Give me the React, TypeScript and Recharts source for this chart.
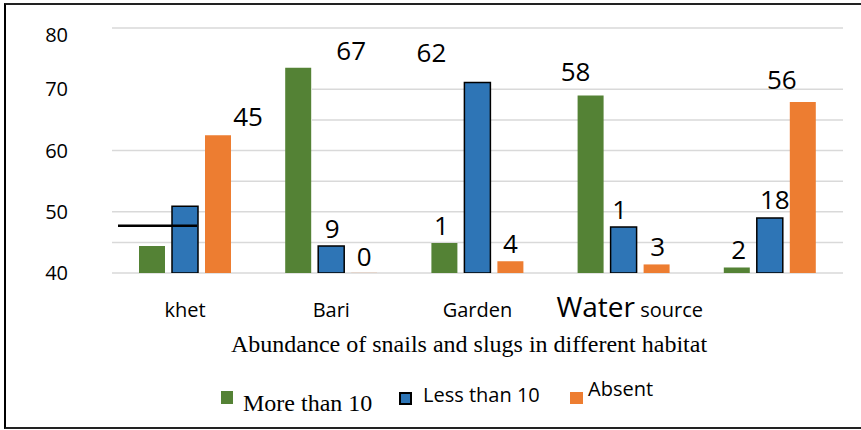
import React from "react";
import {
  BarChart,
  Bar,
  XAxis,
  YAxis,
  CartesianGrid,
  Legend,
  LabelList,
  ReferenceLine,
} from "recharts";

// habitats on the x axis (last group has no printed name)
const habitats = ["khet", "Bari", "Garden", "Water source", ""];

// bar heights as drawn on the 40-80 axis
const moreThan10 = [44.4, 73.5, 44.9, 69.0, 40.9];
const lessThan10 = [50.9, 44.4, 71.1, 47.5, 49.0];
const absent = [62.5, 40.02, 41.9, 41.4, 67.9];

// printed counts above the bars
const moreLabels = [null, "67", "1", "58", "2"];
const lessLabels = [null, "9", "62", "1", "18"];
const absentLabels = ["45", "0", "4", "3", "56"];

const yTicks = [40, 50, 60, 70, 80];
const gridValues = [40, 45, 50, 55, 60, 65, 70, 80];
const markerValue = 47.7;

const GREEN = "#548235";
const BLUE = "#2E75B6";
const ORANGE = "#ED7D31";
const SANS = "'Open Sans', 'Noto Sans', sans-serif";
const SERIF = "'Liberation Serif', 'Times New Roman', serif";

// label nudges (dx, dy) relative to the bar top centre
const moreNudge = [[0, 0], [53, 0], [-3, 0], [-15, -6], [2, 0]];
const lessNudge = [[0, 0], [1, 0], [-46, -13], [-4, 0], [5, -1]];
const absentNudge = [[30, -1], [0, 1], [0, 0], [1, 0], [-21, -5]];

// some grid lines only start part way across the plot
const gridStart: Record<number, number> = { 55: 118, 65: 200, 70: 200 };

const data = habitats.map((h, i) => ({
  habitat: h,
  more: moreThan10[i],
  less: lessThan10[i],
  absent: absent[i],
  moreLabel: moreLabels[i],
  lessLabel: lessLabels[i],
  absentLabel: absentLabels[i],
}));

const makeLabel = (nudges: number[][]) => (props: any) => {
  const { value, index } = props;
  if (value == null || value === "") return null;
  const vb = props.viewBox ?? props;
  const [dx, dy] = nudges[index] ?? [0, 0];
  return (
    <text
      x={vb.x + vb.width / 2 + dx}
      y={vb.y - 17 + dy + 9}
      textAnchor="middle"
      fontSize={26}
      fontFamily={SANS}
      fill="#000"
    >
      {value}
    </text>
  );
};

const YTick = ({ x, y, payload }: any) => (
  <text
    x={x}
    y={y + (payload.value === 80 ? 7 : 0)}
    dy="0.355em"
    textAnchor="end"
    fontSize={20}
    fontFamily={SANS}
    fill="#000"
  >
    {payload.value}
  </text>
);

const XTick = ({ x, y, payload }: any) => {
  const v: string = payload.value;
  if (v === "Water source") {
    return (
      <text x={x + 6} y={y + 44} textAnchor="middle" fontFamily={SANS} fill="#000">
        <tspan fontSize={28}>Water</tspan>
        <tspan fontSize={20}> source</tspan>
      </text>
    );
  }
  return (
    <text x={x} y={y + 44} textAnchor="middle" fontSize={20} fontFamily={SANS} fill="#000">
      {v}
    </text>
  );
};

const gridLine = (p: any) => {
  const start = gridStart[gridValues[p.index]] ?? 0;
  return (
    <line
      key={`h-${p.index}`}
      x1={p.x1 + start}
      y1={p.y1}
      x2={p.x2}
      y2={p.y2}
      stroke="#d9d9d9"
      strokeWidth={1.5}
    />
  );
};

const markerShape = (p: any) => (
  <line x1={p.x1 + 6} y1={p.y1} x2={p.x1 + 85} y2={p.y2} stroke="#000" strokeWidth={2.5} />
);

// legend item styles keyed by series
const legendStyle: Record<string, any> = {
  more: { sq: [221, 16, 12, 13], tx: 243, ty: 36, font: SERIF, size: 24, stroke: false },
  less: { sq: [400, 18, 11, 11], tx: 423, ty: 27, font: SANS, size: 20, stroke: true },
  absent: { sq: [570, 17, 13, 12], tx: 588, ty: 21, font: SANS, size: 20, stroke: false },
};

const renderLegend = (props: any) => (
  <svg width={861} height={50}>
    {(props.payload ?? []).map((e: any) => {
      const s = legendStyle[e.dataKey];
      if (!s) return null;
      return (
        <g key={e.dataKey}>
          <rect
            x={s.sq[0]}
            y={s.sq[1]}
            width={s.sq[2]}
            height={s.sq[3]}
            fill={e.color}
            stroke={s.stroke ? "#000" : "none"}
            strokeWidth={s.stroke ? 2 : 0}
          />
          <text x={s.tx} y={s.ty} fontFamily={s.font} fontSize={s.size} fill="#000">
            {e.value}
          </text>
        </g>
      );
    })}
  </svg>
);

export default function App() {
  return (
    <div
      style={{
        position: "absolute",
        left: 0,
        top: 0,
        width: 861,
        height: 430,
        overflow: "hidden",
        background: "#fff",
      }}
    >
      <div
        style={{
          position: "absolute",
          left: 4,
          top: 3,
          width: 900,
          height: 426,
          boxSizing: "border-box",
          borderLeft: "2px solid #000",
          borderTop: "2px solid #222",
          borderBottom: "2px solid #222",
        }}
      />
      <BarChart
        width={861}
        height={430}
        data={data}
        margin={{ top: 28, right: 18, bottom: 127, left: 0 }}
        barGap={7}
        style={{ position: "absolute", left: 0, top: 0 }}
      >
        <CartesianGrid
          vertical={false}
          horizontalValues={gridValues}
          horizontal={gridLine}
          stroke="#d9d9d9"
        />
        <XAxis
          dataKey="habitat"
          axisLine={false}
          tickLine={false}
          tickSize={0}
          tickMargin={0}
          height={30}
          interval={0}
          tick={<XTick />}
        />
        <YAxis
          domain={[40, 80]}
          ticks={yTicks}
          allowDataOverflow
          axisLine={false}
          tickLine={false}
          tickSize={0}
          tickMargin={44}
          width={112}
          tick={<YTick />}
        />
        <Bar dataKey="more" name="More than 10" fill={GREEN} barSize={26} isAnimationActive={false}>
          <LabelList dataKey="moreLabel" content={makeLabel(moreNudge)} />
        </Bar>
        <Bar
          dataKey="less"
          name="Less than 10"
          fill={BLUE}
          stroke="#000"
          strokeWidth={1.5}
          barSize={26}
          isAnimationActive={false}
        >
          <LabelList dataKey="lessLabel" content={makeLabel(lessNudge)} />
        </Bar>
        <Bar dataKey="absent" name="Absent" fill={ORANGE} barSize={26} isAnimationActive={false}>
          <LabelList dataKey="absentLabel" content={makeLabel(absentNudge)} />
        </Bar>
        <ReferenceLine y={markerValue} stroke="#000" shape={markerShape} />
        <Legend
          layout="horizontal"
          verticalAlign="middle"
          align="center"
          wrapperStyle={{ position: "absolute", top: 375, left: 0, width: 861, height: 50 }}
          content={renderLegend}
        />
      </BarChart>
      <svg
        width={861}
        height={40}
        style={{ position: "absolute", left: 0, top: 325, pointerEvents: "none" }}
      >
        <text x={469} y={27} textAnchor="middle" fontFamily={SERIF} fontSize={24} fill="#000">
          Abundance of snails and slugs in different habitat
        </text>
      </svg>
    </div>
  );
}
